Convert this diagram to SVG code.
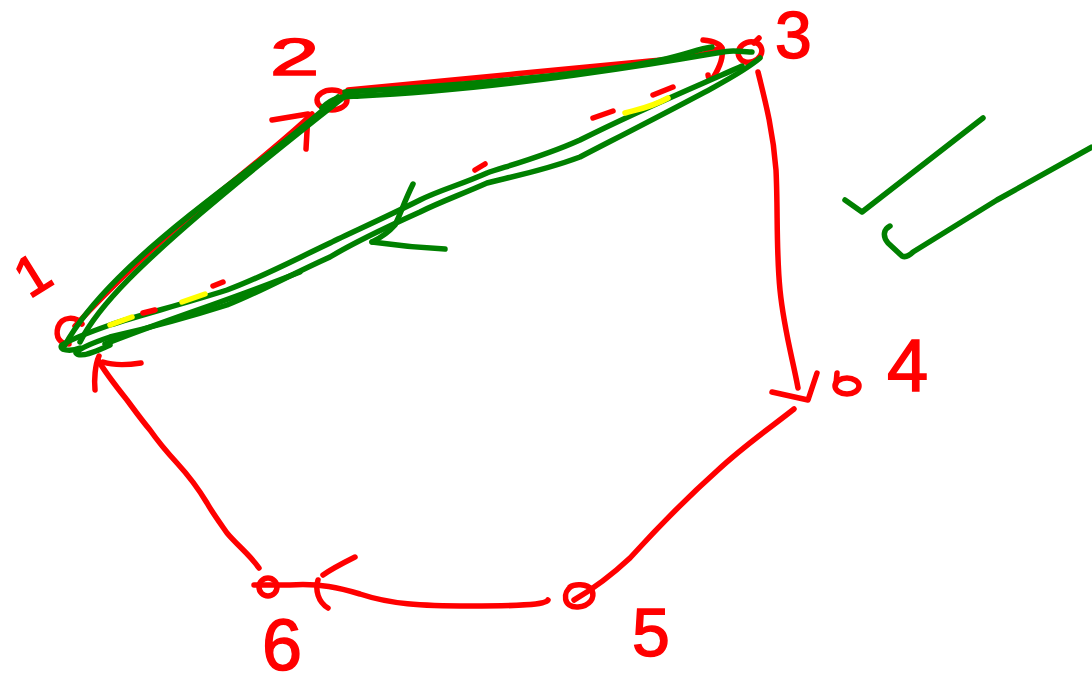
<svg xmlns="http://www.w3.org/2000/svg" width="1092" height="684" viewBox="0 0 1092 684">
  <style>
    .red { fill: none; stroke: #ff0000; stroke-width: 5.5; stroke-linecap: round; stroke-linejoin: round; }
    .green { fill: none; stroke: #008000; stroke-width: 5.5; stroke-linecap: round; stroke-linejoin: round; }
    .yellow { fill: none; stroke: #ffff00; stroke-width: 5.5; stroke-linecap: round; }
    .label { font-family: "Liberation Sans", Arial, sans-serif; fill: #ff0000; stroke: #ff0000; stroke-width: 1.5; }
  </style>
  <rect width="1092" height="684" fill="#ffffff"/>

  <!-- red edges of the graph -->
  <g id="connectors">
    <!-- 1 -> 2 -->
    <path class="red" d="M75,326 C110,288 160,240 200,208 S285,140 312,114"/>
    <path class="red" d="M272,120 L308,114 L306,149"/>
    <!-- 2 -> 3 -->
    <path class="red" d="M348,90 C420,84 550,70 640,62 S705,50 722,48"/>
    <path class="red" d="M703,40 C712,41 720,43 722,48 C724,58 718,70 713,78 C710,80 708,77 708,75"/>
    <!-- 3 -> 4 -->
    <path class="red" d="M758,72 C765,100 773,130 776,170 C778,210 776,250 780,290 C784,330 793,360 798,388"/>
    <path class="red" d="M772,392 L808,400 L817,373"/>
    <!-- 4 -> 5 -->
    <path class="red" d="M794,409 C770,428 745,445 718,470 C690,495 660,525 630,558 C615,572 600,585 574,600"/>
    <!-- 5 -> 6 -->
    <path class="red" d="M548,600 C545,605 520,606 470,606 C420,606 390,604 360,594 C340,588 320,583 290,585 L254,585"/>
    <path class="red" d="M355,557 C345,562 330,570 323,575"/>
    <path class="red" d="M318,580 C315,590 318,602 328,608"/>
    <!-- 6 -> 1 -->
    <path class="red" d="M259,568 C250,555 237,545 227,533 C220,523 212,512 207,503 C198,488 188,475 177,463 C165,450 157,440 150,430 C140,418 133,408 127,400 C115,385 105,372 98,360"/>
    <path class="red" d="M95,390 C94,380 95,365 99,356"/>
    <path class="red" d="M103,362 C115,366 128,365 141,363"/>
  </g>

  <!-- nodes -->
  <g id="node-1">
    <path class="red" d="M82,324 C76,316 62,316 58,327 C55,337 60,344 69,344"/>
    <text class="label" font-size="56" transform="translate(32,274) rotate(-32)" text-anchor="middle" dy="20">1</text>
  </g>
  <g id="node-2">
    <ellipse class="red" cx="332" cy="100" rx="15" ry="10"/>
    <text class="label" font-size="52" transform="translate(270,75) scale(1.7,1)">2</text>
  </g>
  <g id="node-3">
    <ellipse class="red" cx="750" cy="52" rx="12" ry="10" transform="rotate(-20 750 52)"/>
    <path class="red" d="M754,43 L759,38"/>
    <text class="label" font-size="66" x="775" y="58">3</text>
  </g>
  <g id="node-4">
    <ellipse class="red" cx="847" cy="386" rx="12" ry="8"/>
    <path class="red" d="M837,373 L836,384"/>
    <text class="label" font-size="74" x="887" y="391">4</text>
  </g>
  <g id="node-5">
    <path class="red" d="M572,586 C562,592 563,608 578,607 C590,606 595,598 592,590 C587,583 574,584 570,587"/>
    <text class="label" font-size="68" x="632" y="656">5</text>
  </g>
  <g id="node-6">
    <circle class="red" cx="268" cy="587" r="9"/>
    <text class="label" font-size="72" x="262" y="670">6</text>
  </g>

  <!-- green traversal strokes over the triangle 1-2-3 -->
  <g id="traversal">
    <path class="green" d="M65,345 C90,300 140,255 190,215 S290,140 338,97"/>
    <path class="green" d="M80,342 C100,302 150,257 200,214 S300,132 345,96"/>
    <path class="green" d="M322,108 C335,95 345,97 360,96 C450,92 560,78 650,64 S720,50 752,52"/>
    <path class="green" d="M345,92 C420,88 520,80 600,70 S690,50 712,47"/>
    <path class="green" d="M742,66 C700,85 650,105 580,140 C540,158 500,168 487,173 C460,185 440,190 420,200 C380,220 350,233 330,243 C290,262 260,278 227,290 C180,305 140,315 110,325 C90,332 70,340 62,345 C58,350 70,352 80,348"/>
    <path class="green" d="M760,58 C740,75 700,95 580,157 C540,172 505,178 487,183 C460,195 440,202 420,212 C380,230 350,245 330,257 C290,275 260,292 227,305 C180,320 140,330 110,337 C95,342 80,348 76,353 C80,358 95,352 110,345"/>
    <path class="green" d="M105,344 C160,322 230,300 300,272"/>
    <path class="green" d="M413,184 C405,200 400,215 395,225 C388,233 380,238 372,242"/>
    <path class="green" d="M372,242 C400,246 425,248 445,249"/>
  </g>

  <!-- dashed marks beside the 1-3 strokes -->
  <g id="marks">
    <path class="yellow" d="M110,325 L132,317"/>
    <path class="red" d="M143,313 L155,310"/>
    <path class="yellow" d="M182,302 L205,294"/>
    <path class="red" d="M213,286 L223,282"/>
    <path class="red" d="M475,170 L485,164"/>
    <path class="red" d="M593,118 L613,111"/>
    <path class="yellow" d="M625,113 C635,110 650,108 668,98"/>
    <path class="red" d="M653,95 L673,87"/>
  </g>

  <!-- check marks -->
  <g id="checks">
    <path class="green" d="M845,200 L862,212 L983,118"/>
    <path class="green" d="M890,226 C884,229 882,236 888,243 L902,256 C906,258 910,255 913,252 L997,200 L1092,147"/>
  </g>
</svg>
